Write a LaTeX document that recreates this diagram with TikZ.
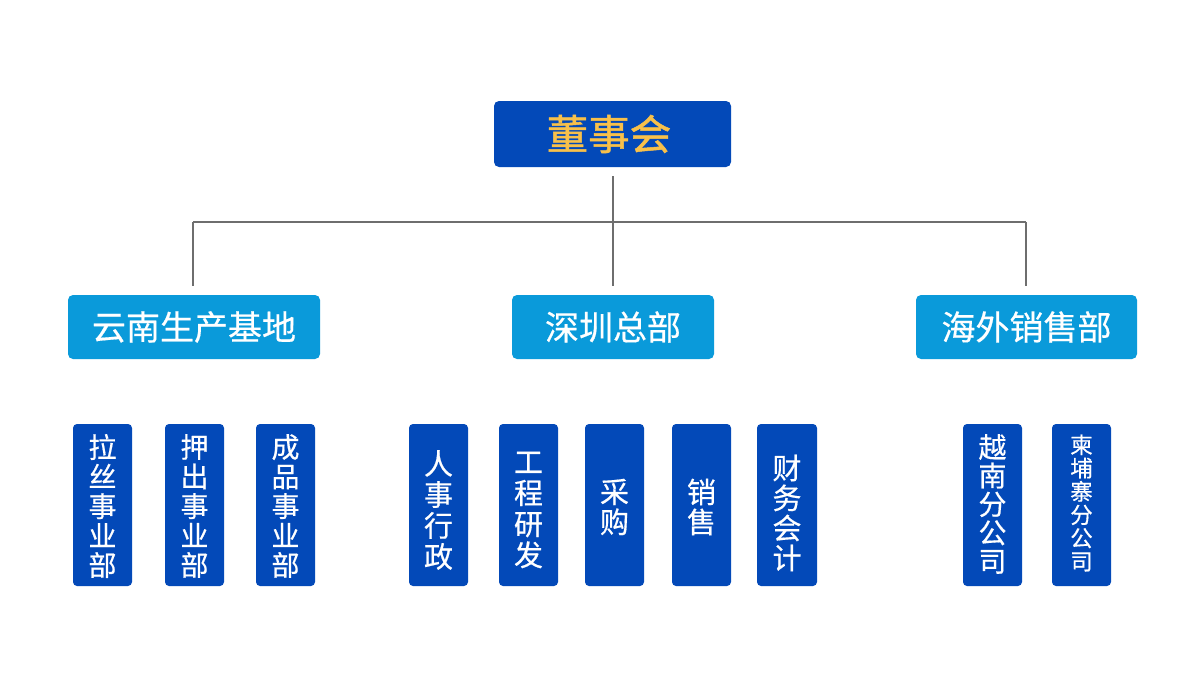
\documentclass[tikz,border=0pt]{standalone}
\usepackage{fontspec}
\newfontfamily\cjk[FakeBold=0.5]{Noto Sans CJK SC}
\newfontfamily\cjktop[FakeBold=1.2]{Noto Sans CJK SC}
\definecolor{darkblue}{HTML}{0349B8}
\definecolor{lightblue}{HTML}{0A9ADA}
\definecolor{gold}{HTML}{F8C04A}
\definecolor{linegrey}{HTML}{6E6E6E}
\begin{document}
\begin{tikzpicture}[x=1pt,y=-1pt,
  topbox/.style={fill=darkblue,draw=none,rounded corners=5pt,inner sep=0pt},
  midbox/.style={fill=lightblue,draw=none,rounded corners=5pt,inner sep=0pt},
  leafbox/.style={fill=darkblue,draw=none,rounded corners=4pt,inner sep=0pt},
  conn/.style={draw=linegrey,line width=1.3pt},
  toptext/.style={font=\cjktop\fontsize{41.5}{44}\selectfont,text=gold},
  midtext/.style={font=\cjk\fontsize{34}{36}\selectfont,text=white},
  leaftext/.style={font=\cjk\fontsize{28}{29.5}\selectfont,text=white,align=center},
  smalltext/.style={font=\cjk\fontsize{22.5}{23.3}\selectfont,text=white,align=center}
]
\useasboundingbox (0,0) rectangle (1200,688);
% top
\path[topbox] (494,101) rectangle (731,167);
\node[toptext] (top) at (609,134) {董事会};
% mid boxes
\path[midbox] (68,295) rectangle (320,359);
\node[midtext] (yn) at (194,327) {云南生产基地};
\path[midbox] (512,295) rectangle (714,359);
\node[midtext] (sz) at (613,327) {深圳总部};
\path[midbox] (916,295) rectangle (1137,359);
\node[midtext] (hw) at (1026.5,327) {海外销售部};
% connectors
\coordinate (t0) at (613,176);
\coordinate (tj) at (613,222);
\coordinate (l0) at (193,222);
\coordinate (r0) at (1026,222);
\coordinate (l1) at (193,286);
\coordinate (m1) at (613,286);
\coordinate (r1) at (1026,286);
\draw[conn] (t0) -- (m1);
\draw[conn] (l0) -- (r0);
\draw[conn] (l0) -- (l1);
\draw[conn] (r0) -- (r1);
% leaves
\foreach \xa/\xb in {73/132,165/224,256/315,409/468,499/558,585/644,672/731,757/817,963/1022,1052/1111}{
  \path[leafbox] (\xa,424) rectangle (\xb,586);
}
\node[leaftext] (a1) at (102.5,506) {拉\\丝\\事\\业\\部};
\node[leaftext] (a2) at (194.5,506) {押\\出\\事\\业\\部};
\node[leaftext] (a3) at (285.5,506) {成\\品\\事\\业\\部};
\node[leaftext,font=\cjk\fontsize{29}{31}\selectfont] (b1) at (438.5,510) {人\\事\\行\\政};
\node[leaftext,font=\cjk\fontsize{29}{31}\selectfont] (b2) at (528.5,510) {工\\程\\研\\发};
\node[leaftext,font=\cjk\fontsize{29}{30}\selectfont] (b3) at (614.5,507) {采\\购};
\node[leaftext,font=\cjk\fontsize{29}{30}\selectfont] (b4) at (701.5,507) {销\\售};
\node[leaftext,font=\cjk\fontsize{29}{30}\selectfont] (b5) at (787,513) {财\\务\\会\\计};
\node[leaftext,font=\cjk\fontsize{28}{28.5}\selectfont] (c1) at (992.5,504) {越\\南\\分\\公\\司};
\node[smalltext] (c2) at (1081.5,503) {柬\\埔\\寨\\分\\公\\司};
\end{tikzpicture}
\end{document}
